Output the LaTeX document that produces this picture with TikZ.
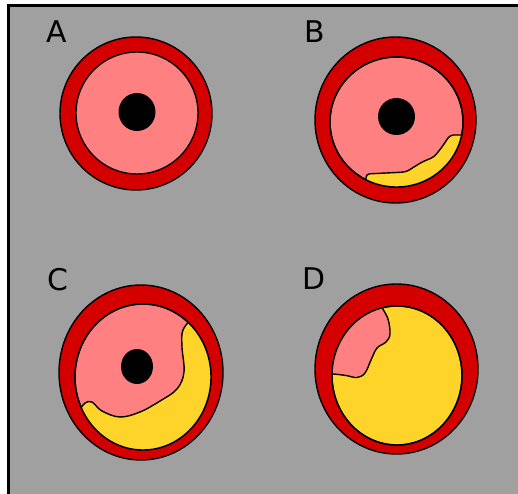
\documentclass[tikz,border=0pt]{standalone}
\usepackage{fontspec}
\setmainfont{DejaVu Sans}
\usepackage{tikz}

\definecolor{wallred}{HTML}{D40000}
\definecolor{lumenpink}{HTML}{FF8080}
\definecolor{plaqueyellow}{HTML}{FFD42A}
\definecolor{panelgray}{HTML}{A0A0A0}

\begin{document}
\begin{tikzpicture}[x=0.02cm, y=-0.02cm, line width=0.8pt,
    wall/.style={fill=wallred, draw=black},
    intima/.style={fill=lumenpink, draw=black},
    plaque/.style={fill=plaqueyellow, draw=black},
    hole/.style={fill=black},
    letter/.style={inner sep=0pt, font=\fontsize{17}{17}\selectfont}]
    \useasboundingbox (0,0) rectangle (518,494);
    \clip (0,0) rectangle (518,494);
    \fill[white] (0,0) rectangle (518,494);

    % Panel with frame on the left and top
    \filldraw[fill=panelgray, draw=black, line width=1.7pt] (8.5,5.5) rectangle (540,520);

    % Labels
    \node[letter] (lab_A) at (57,32)  {A};
    \node[letter] (lab_B) at (315,32) {B};
    \node[letter] (lab_C) at (58,280) {C};
    \node[letter] (lab_D) at (314,279) {D};

    % Artery A - healthy
    \filldraw[wall]   (136,113.5) ellipse [x radius=76, y radius=76.5];
    \filldraw[intima] (137,113) ellipse [x radius=61, y radius=61];
    \fill[hole]       (137,112) ellipse [x radius=18.5, y radius=19];

    % Artery B - thin plaque
    \filldraw[wall]   (395.5,120) ellipse [x radius=80.5, y radius=83];
    \filldraw[intima] (396.5,122) ellipse [x radius=66.5, y radius=65];
    \begin{scope}
        \clip (396.5,122) ellipse [x radius=66.5, y radius=65];
        \filldraw[plaque, rounded corners=2pt] (366,210) -- (366,174) -- (386,173) -- (406,172)
            -- (422,162) -- (434,157) -- (442,147) -- (450,135) -- (478,135) -- (478,210) -- cycle;
    \end{scope}
    \draw (396.5,122) ellipse [x radius=66.5, y radius=65];
    \fill[hole]       (396.5,116.5) ellipse [x radius=18.5, y radius=18.5];

    % Artery C - large plaque
    \filldraw[wall]   (141,372.5) ellipse [x radius=82, y radius=87.5];
    \filldraw[intima] (143,377) ellipse [x radius=68, y radius=73];
    \begin{scope}
        \clip (143,377) ellipse [x radius=68, y radius=73];
        \filldraw[plaque] plot[smooth, tension=0.6] coordinates {(194,316) (183,330) (182,347) (184,372)
            (177,389) (160,401) (140,412) (120,417) (102,411) (92,402) (85,403) (80,409) (70,420)}
            -- (60,470) -- (230,470) -- (230,300) -- cycle;
    \end{scope}
    \draw (143,377) ellipse [x radius=68, y radius=73];
    \fill[hole]       (137,366.5) ellipse [x radius=16, y radius=17.5];

    % Artery D - lumen closed
    \filldraw[wall]   (396.5,369) ellipse [x radius=81.5, y radius=85];
    \filldraw[plaque] (397,375.5) ellipse [x radius=65, y radius=69.5];
    \begin{scope}
        \clip (397,375.5) ellipse [x radius=65, y radius=69.5];
        \filldraw[intima] plot[smooth, tension=0.6] coordinates {(322,374) (333,374) (346,375.5) (357,377.5)
            (365,373) (371,360) (377,348) (386,342) (390,334) (388,319) (382,307) (379,296)}
            -- (310,288) -- cycle;
    \end{scope}
    \draw (397,375.5) ellipse [x radius=65, y radius=69.5];

\end{tikzpicture}
\end{document}
